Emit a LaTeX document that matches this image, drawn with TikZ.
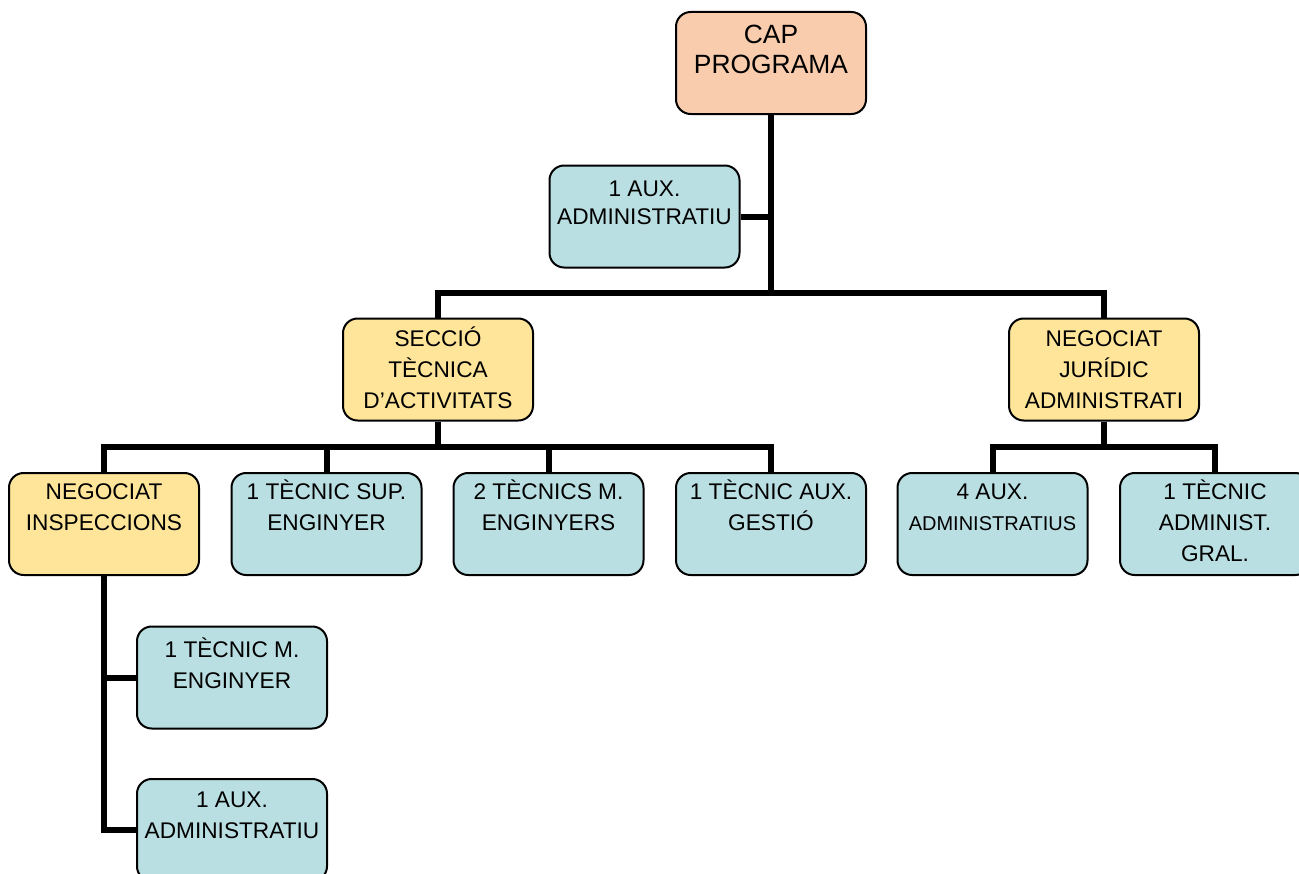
\documentclass[tikz,border=0pt]{standalone}
\usepackage{fontspec}
\setmainfont{Liberation Sans}
\definecolor{capcol}{RGB}{248,204,173}
\definecolor{seccol}{RGB}{254,229,154}
\definecolor{auxcol}{RGB}{186,223,226}
\newcommand{\lbl}[2][20pt]{\parbox[c][76.5pt][t]{142.5pt}{\centering\rule{0pt}{#1}#2}}
\tikzset{
	orgbox/.style={draw=black, line width=1.5pt, rounded corners=11pt, inner sep=0pt,
		minimum width=142.5pt, minimum height=76.5pt, font=\fontsize{17}{23.25}\selectfont},
	conn/.style={line width=4.5pt}
}

\begin{document}
\begin{tikzpicture}[x=0.75pt, y=-0.75pt]
		%%%%% START %%%%%
		\useasboundingbox (0, 0) rectangle (1299, 874);
		
		\node[orgbox, fill=capcol] (cap) at (771, 63) {\lbl[23.7pt]{\fontsize{19.8}{22.5}\selectfont CAP\\PROGRAMA}};
		\node[orgbox, fill=auxcol] (aux1) at (644.5, 216.5) {\lbl[23.5pt]{\baselineskip=21pt 1 AUX.\\ADMINISTRATIU}};
		
		\node[orgbox, fill=seccol] (seccio) at (438, 369.5) {\lbl[21pt]{SECCIÓ\\TÈCNICA\\D’ACTIVITATS}};
		\node[orgbox, fill=seccol] (juridic) at (1104, 369.5) {\lbl[21pt]{NEGOCIAT\\JURÍDIC\\ADMINISTRATI}};
		
		\node[orgbox, fill=seccol] (insp) at (104, 524) {\lbl{NEGOCIAT\\INSPECCIONS}};
		\node[orgbox, fill=auxcol] (sup) at (326.5, 524) {\lbl{1 TÈCNIC SUP.\\ENGINYER}};
		\node[orgbox, fill=auxcol] (mitjos) at (548.5, 524) {\lbl{2 TÈCNICS M.\\ENGINYERS}};
		\node[orgbox, fill=auxcol] (gestio) at (771, 524) {\lbl{1 TÈCNIC AUX.\\GESTIÓ}};
		
		\node[orgbox, fill=auxcol] (aux4) at (992.5, 524) {\lbl{4 AUX.\\{\fontsize{15}{23.25}\selectfont ADMINISTRATIUS}}};
		\node[orgbox, fill=auxcol] (admgral) at (1215, 524) {\lbl{1 TÈCNIC\\ADMINIST.\\GRAL.}};
		
		\node[orgbox, fill=auxcol] (tecm) at (232, 677.5) {\lbl[23pt]{1 TÈCNIC M.\\ENGINYER}};
		\node[orgbox, fill=auxcol] (aux2) at (232, 830) {\lbl[21.5pt]{1 AUX.\\ADMINISTRATIU}};
		
		% connectors
		\coordinate (bus1) at (771, 293);
		\coordinate (bus2) at (438, 447);
		\coordinate (bus3) at (1104, 447);
		
		\draw[conn] (cap.south) -- (cap.south |- bus1);
		\draw[conn] (aux1.east) -- (aux1.east -| cap.south);
		\draw[conn] (seccio.north) |- (bus1) -| (juridic.north);
		
		\draw[conn] (seccio.south) -- (bus2);
		\draw[conn] (insp.north) |- (bus2) -| (gestio.north);
		\draw[conn] (sup.north) -- (sup.north |- bus2);
		\draw[conn] (mitjos.north) -- (mitjos.north |- bus2);
		
		\draw[conn] (juridic.south) -- (bus3);
		\draw[conn] (aux4.north) |- (bus3) -| (admgral.north);
		
		\draw[conn] (insp.south) |- (aux2.west);
		\draw[conn] (tecm.west) -- (tecm.west -| insp.south);
		
		%%%%% END %%%%%
\end{tikzpicture}
\end{document}
